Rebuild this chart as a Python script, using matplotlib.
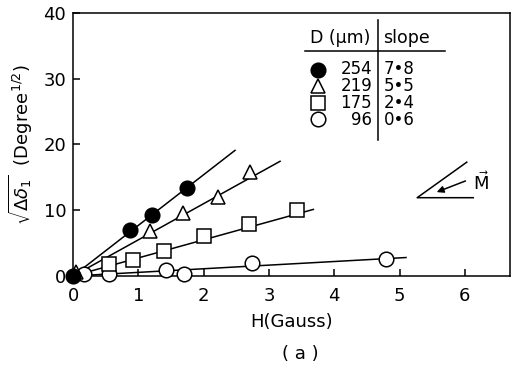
import matplotlib
matplotlib.use("Agg")
import matplotlib.pyplot as plt
import numpy as np

# sample diameters (um), printed slopes, and points
diam = ["254", "219", "175", "96"]
slope_txt = ["7\u20228", "5\u20225", "2\u20224", "0\u20226"]
markers = ["o", "^", "s", "o"]
filled = [True, False, False, False]

h_254 = [0.0, 0.87, 1.21, 1.74]
s_254 = [0.0, 7.0, 9.2, 13.3]
h_219 = [0.05, 1.18, 1.68, 2.22, 2.71]
s_219 = [0.6, 6.8, 9.5, 12.0, 15.8]
h_175 = [0.55, 0.92, 1.39, 2.0, 2.70, 3.43]
s_175 = [1.8, 2.4, 3.8, 6.1, 7.9, 10.1]
h_96 = [0.17, 0.55, 1.42, 1.70, 2.74, 4.79]
s_96 = [0.3, 0.3, 0.9, 0.3, 2.0, 2.6]

# fitted straight lines through origin (slope, end of line)
fit_slope = [7.7, 5.5, 2.75, 0.55]
fit_end = [2.48, 3.17, 3.68, 5.1]

xs = [h_254, h_219, h_175, h_96]
ys = [s_254, s_219, s_175, s_96]

fig = plt.figure(figsize=(5.15, 3.67), dpi=100)
ax = fig.add_axes([0.142, 0.248, 0.848, 0.717])

for i in range(len(diam)):
  xe = np.array([0.0, fit_end[i]])
  ax.plot(xe, fit_slope[i] * xe, color="black", lw=1.1, zorder=2)
for i in reversed(range(len(diam))):
  fc = "black" if filled[i] else "white"
  ms = 10.5 if markers[i] != "s" else 9.5
  ax.plot(xs[i], ys[i], ls="none", marker=markers[i], ms=ms, mfc=fc,
          mec="black", mew=1.1, clip_on=False, zorder=3 + (1 if filled[i] else 0))

ax.set_xlim(0, 6.69)
ax.set_ylim(0, 40)
ax.set_xticks([0, 1, 2, 3, 4, 5, 6])
ax.set_yticks([0, 10, 20, 30, 40])
ax.tick_params(direction="in", length=5, width=1.1, labelsize=13)
ax.tick_params(axis="x", pad=8)
ax.tick_params(axis="y", pad=5)
for s in ax.spines.values():
  s.set_linewidth(1.1)

ax.set_xlabel("H(Gauss)", fontsize=13, labelpad=6)
ax.set_ylabel(r"$\sqrt{\Delta\delta_1}$  (Degree$^{1/2}$)", fontsize=13, labelpad=6)
fig.text(0.583, 0.035, "( a )", ha="center", va="center", fontsize=13)

# legend table
ax.text(3.63, 36.2, "D (\u03bcm)", fontsize=12.5, va="center", ha="left")
ax.text(4.75, 36.2, "slope", fontsize=12.5, va="center", ha="left")
ax.plot([4.67, 4.67], [20.7, 38.9], color="black", lw=1.1)
ax.plot([3.55, 5.70], [34.2, 34.2], color="black", lw=1.1)
row_y = [31.3, 28.9, 26.3, 23.9]
for i in range(len(diam)):
  fc = "black" if filled[i] else "white"
  ax.plot([3.75], [row_y[i]], ls="none", marker=markers[i], ms=10.5 if markers[i] != "s" else 9.5,
          mfc=fc, mec="black", mew=1.1)
mid = np.mean(row_y)
ax.text(4.58, mid, "\n".join(diam), fontsize=12, va="center", ha="right",
        multialignment="right", linespacing=0.93)
ax.text(4.76, mid, "\n".join(slope_txt), fontsize=12, va="center", ha="left",
        linespacing=0.93)

# magnetisation sketch
ax.plot([6.03, 5.27, 6.13], [17.3, 11.9, 11.9], color="black", lw=1.1)
ax.annotate("", xy=(5.53, 12.6), xytext=(6.05, 14.6),
            arrowprops=dict(arrowstyle="-|>", color="black", lw=1.1, mutation_scale=10))
ax.text(6.12, 14.2, r"$\vec{\mathrm{M}}$", fontsize=13, va="center", ha="left")

fig.savefig("out.png", dpi=100)
